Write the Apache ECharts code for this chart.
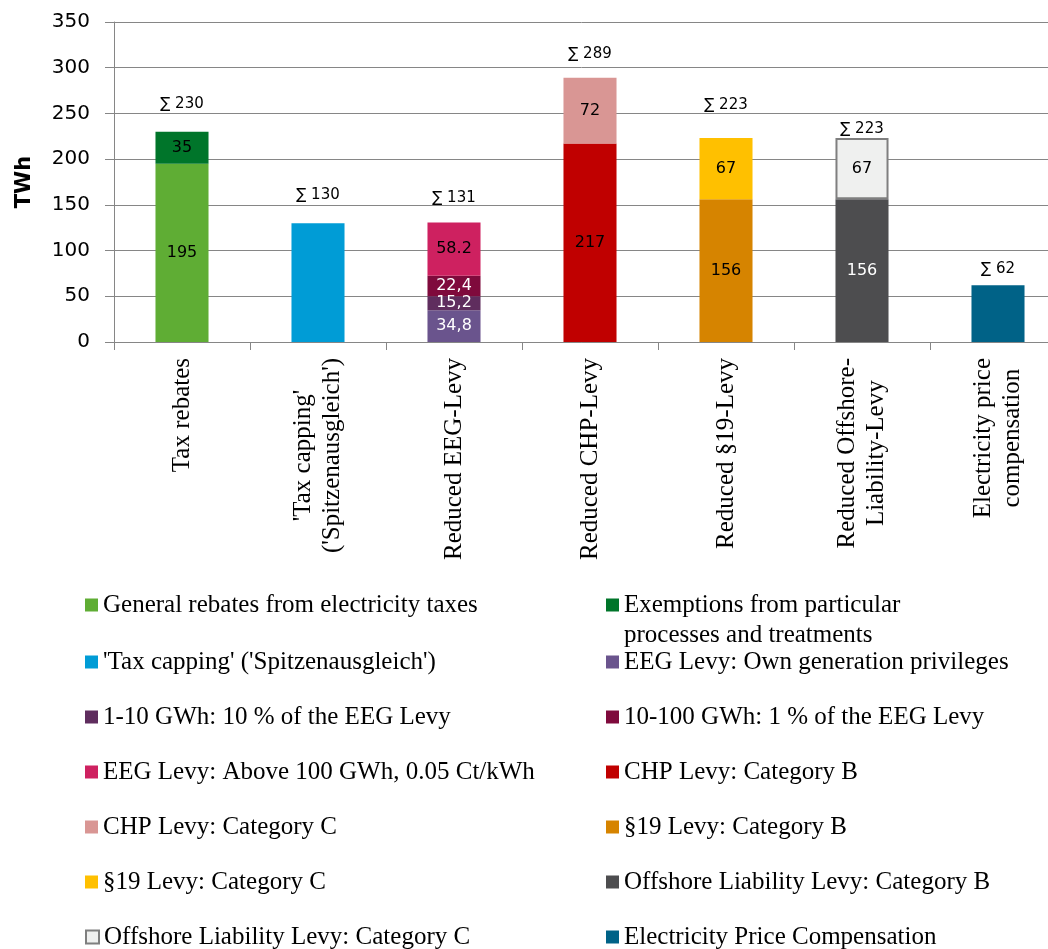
<!DOCTYPE html>
<html>
<head>
<meta charset="utf-8">
<script src="https://cdn.jsdelivr.net/npm/echarts@6/dist/echarts.min.js"></script>
<style>
html,body{margin:0;padding:0;background:#fff;}
#chart{width:1048px;height:949px;}
</style>
</head>
<body>
<div id="chart"></div>
<script>
// ---- Data ----
const categories = [
  "Tax rebates",
  "'Tax capping'\n('Spitzenausgleich')",
  "Reduced EEG-Levy",
  "Reduced CHP-Levy",
  "Reduced §19-Levy",
  "Reduced Offshore-\nLiability-Levy",
  "Electricity price\ncompensation"
];
const yTicks = [0, 50, 100, 150, 200, 250, 300, 350];

const generalRebates = [195, null, null, null, null, null, null];
const exemptions     = [35, null, null, null, null, null, null];
const taxCapping     = [null, 130, null, null, null, null, null];
const eegOwnGen      = [null, null, 34.8, null, null, null, null];
const eeg1to10       = [null, null, 15.2, null, null, null, null];
const eeg10to100     = [null, null, 22.4, null, null, null, null];
const eegAbove100    = [null, null, 58.2, null, null, null, null];
const chpB           = [null, null, null, 217, null, null, null];
const chpC           = [null, null, null, 72, null, null, null];
const s19B           = [null, null, null, null, 156, null, null];
const s19C           = [null, null, null, null, 67, null, null];
const offshoreB      = [null, null, null, null, null, 156, null];
const offshoreC      = [null, null, null, null, null, 67, null];
const priceComp      = [null, null, null, null, null, null, 62];
const totals         = [230, 130, 131, 289, 223, 223, 62];

const seriesNames = [
  "General rebates from electricity taxes",
  "Exemptions from particular processes and treatments",
  "'Tax capping' ('Spitzenausgleich')",
  "EEG Levy: Own generation privileges",
  "1-10 GWh: 10 % of the EEG Levy",
  "10-100 GWh: 1 % of the EEG Levy",
  "EEG Levy: Above 100 GWh, 0.05 Ct/kWh",
  "CHP Levy: Category B",
  "CHP Levy: Category C",
  "§19 Levy: Category B",
  "§19 Levy: Category C",
  "Offshore Liability Levy: Category B",
  "Offshore Liability Levy: Category C",
  "Electricity Price Compensation"
];
const seriesValues = [generalRebates, exemptions, taxCapping, eegOwnGen, eeg1to10, eeg10to100,
  eegAbove100, chpB, chpC, s19B, s19C, offshoreB, offshoreC, priceComp];

// ---- Styles ----
const colors = ['#5FAD34', '#00752A', '#009CD6', '#6A548D', '#5F2D5E', '#7F0A3C', '#CE2160',
  '#C00000', '#D99694', '#D68400', '#FFC000', '#4D4D4F', '#EFF0EF', '#006287'];
const labelColor = ['#000', '#000', null, '#fff', '#fff', '#fff', '#000',
  '#000', '#000', '#000', '#000', '#fff', '#000', null];
const commaDecimal = [false, false, false, true, true, true, false, false, false, false, false, false, false, false];
const sumLabelDistance = [20, 21, 17, 16, 26, 2, 9];

const sansFont = "'DejaVu Sans', Verdana, sans-serif";
const serifFont = "'Liberation Serif', 'Times New Roman', serif";
const gridColor = '#868686';

const series = seriesNames.map((name, i) => ({
  name: name,
  type: 'bar',
  stack: 'total',
  barWidth: '39%',
  data: seriesValues[i],
  itemStyle: i === 12 ? { color: colors[i], borderColor: '#7F7F7F', borderWidth: 2 } : { color: colors[i] },
  label: {
    show: labelColor[i] !== null,
    position: 'inside',
    color: labelColor[i] || '#000',
    fontFamily: sansFont,
    fontSize: 16,
    formatter: p => {
      const s = String(p.value);
      return commaDecimal[i] ? s.replace('.', ',') : s;
    }
  }
}));

series.push({
  name: 'Sum',
  type: 'bar',
  barWidth: '39%',
  barGap: '-100%',
  silent: true,
  z: 1,
  itemStyle: { color: 'rgba(0,0,0,0)' },
  data: totals.map((v, i) => ({
    value: v,
    label: { distance: sumLabelDistance[i] }
  })),
  label: {
    show: true,
    position: 'top',
    color: '#000',
    fontFamily: sansFont,
    fontSize: 15,
    formatter: p => '∑ ' + p.value
  }
});

// ---- Legends: two columns ----
const rowCenters = [605, 662, 717, 772, 827, 882, 937];
const legends = seriesNames.map((name, i) => {
  const col = i % 2, row = Math.floor(i / 2);
  const twoLine = (i === 1);
  return {
    show: true,
    orient: 'horizontal',
    left: col ? 606 : 85,
    top: rowCenters[row] - (twoLine ? 45 : 15),
    padding: 0,
    icon: 'rect',
    itemWidth: 13,
    itemHeight: 13,
    selectedMode: false,
    data: [name],
    formatter: n => twoLine ? ' \nExemptions from particular\nprocesses and treatments' : n,
    textStyle: {
      fontFamily: serifFont,
      fontSize: 25,
      color: '#000',
      lineHeight: 30
    }
  };
});

const option = {
  animation: false,
  backgroundColor: '#fff',
  grid: { left: 114, top: 22, width: 952, height: 320, containLabel: false, outerBoundsMode: 'none' },
  legend: legends,
  xAxis: {
    type: 'category',
    data: categories,
    axisLine: { lineStyle: { color: gridColor, width: 1 } },
    axisTick: { show: true, length: 8, alignWithLabel: false, lineStyle: { color: gridColor } },
    axisLabel: {
      interval: 0,
      rotate: 90,
      margin: 16,
      color: '#000',
      fontFamily: serifFont,
      fontSize: 25,
      formatter: v => v.split('\n').map(l => '{c|' + l + '}').join('\n'),
      rich: {
        c: { fontFamily: serifFont, fontSize: 25, lineHeight: 29, color: '#000', align: 'center' }
      }
    }
  },
  yAxis: {
    type: 'value',
    min: yTicks[0],
    max: yTicks[yTicks.length - 1],
    interval: 50,
    name: 'TWh',
    nameLocation: 'middle',
    nameGap: 79,
    nameRotate: 90,
    nameTextStyle: { fontFamily: sansFont, fontWeight: 'bold', fontSize: 21, color: '#000' },
    axisLine: { show: true, lineStyle: { color: gridColor, width: 1 } },
    axisTick: { show: true, length: 9, lineStyle: { color: gridColor } },
    axisLabel: { margin: 24, color: '#000', fontFamily: sansFont, fontSize: 20 },
    splitLine: { show: true, lineStyle: { color: gridColor, width: 1 } }
  },
  series: series
};

const chart = echarts.init(document.getElementById('chart'), null, { renderer: 'canvas' });
chart.setOption(option);
</script>
</body>
</html>
